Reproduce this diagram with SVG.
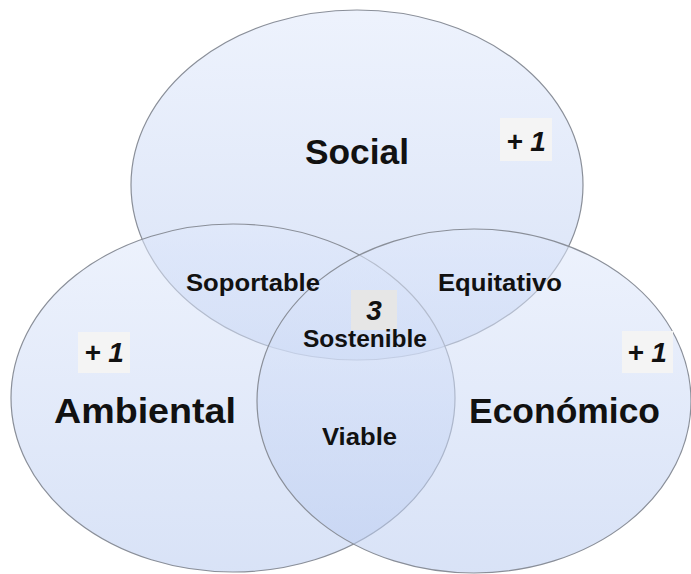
<svg xmlns="http://www.w3.org/2000/svg" width="691" height="574" viewBox="0 0 691 574">
<defs>
<linearGradient id="g" x1="0" y1="0" x2="0" y2="1">
<stop offset="0" stop-color="#dfe8fb"/>
<stop offset="1" stop-color="#b9cbf0"/>
</linearGradient>
<style>
.c{fill:url(#g);fill-opacity:0.55;stroke:#8a8f99;stroke-width:1.2}
.big{font-family:"Liberation Sans",Arial,sans-serif;font-weight:bold;font-size:35px;fill:#111;text-anchor:middle}
.mid{font-family:"Liberation Sans",Arial,sans-serif;font-weight:bold;font-size:24px;fill:#111;text-anchor:middle}
.bx{fill:#f4f4f4}
.bx3{fill:#e6e6e6}
.num{font-family:"Liberation Sans",Arial,sans-serif;font-weight:bold;font-style:italic;font-size:28px;fill:#111;text-anchor:middle}
</style>
</defs>
<rect width="691" height="574" fill="#ffffff"/>
<g id="social">
<ellipse class="c" cx="357" cy="185" rx="226" ry="175"/>
<text class="big" x="357" y="164" textLength="104" lengthAdjust="spacingAndGlyphs">Social</text>
<rect class="bx" x="500" y="118" width="52" height="43"/>
<text class="num" x="526" y="151">+ 1</text>
</g>
<g id="ambiental">
<ellipse class="c" cx="233" cy="398" rx="222" ry="174"/>
<text class="big" x="145" y="423" textLength="182" lengthAdjust="spacingAndGlyphs">Ambiental</text>
<rect class="bx" x="78" y="332" width="52" height="41"/>
<text class="num" x="104" y="362">+ 1</text>
</g>
<g id="economico">
<ellipse class="c" cx="474" cy="401" rx="217" ry="172"/>
<text class="big" x="564.5" y="423" textLength="191" lengthAdjust="spacingAndGlyphs">Económico</text>
<rect class="bx" x="622" y="331" width="51" height="42"/>
<text class="num" x="647" y="362">+ 1</text>
</g>
<g id="soportable">
<text class="mid" x="253" y="291" textLength="134" lengthAdjust="spacingAndGlyphs">Soportable</text>
</g>
<g id="equitativo">
<text class="mid" x="500" y="291" textLength="124" lengthAdjust="spacingAndGlyphs">Equitativo</text>
</g>
<g id="sostenible">
<rect class="bx3" x="351" y="290" width="46" height="40"/>
<text class="num" x="374" y="320" font-size="27">3</text>
<text class="mid" x="365" y="347" textLength="124" lengthAdjust="spacingAndGlyphs">Sostenible</text>
</g>
<g id="viable">
<text class="mid" x="359.5" y="445" textLength="75" lengthAdjust="spacingAndGlyphs">Viable</text>
</g>
<g id="connectors"></g>
</svg>
